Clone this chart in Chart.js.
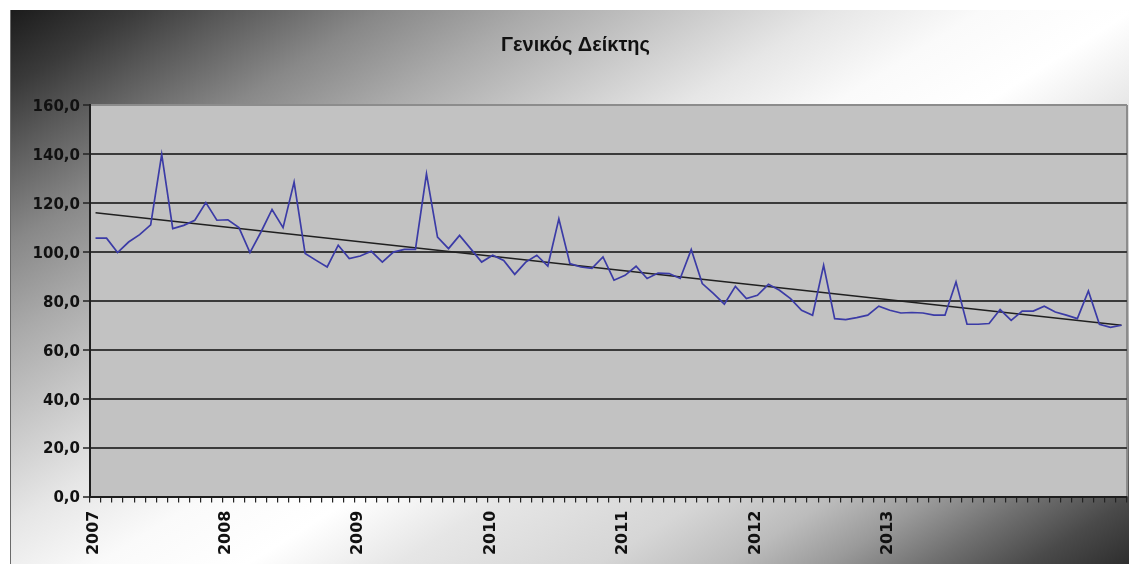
<!DOCTYPE html>
<html>
<head>
<meta charset="utf-8">
<script src="https://cdn.jsdelivr.net/npm/chart.js@4.4.0/dist/chart.umd.min.js"></script>
<style>
  html, body { margin: 0; padding: 0; background: #ffffff; }
  #wrap { width: 1129px; height: 564px; }
</style>
</head>
<body>
<div id="wrap"><canvas id="chart" width="1129" height="564"></canvas></div>
<script>
// General index, monthly values from January 2007 to October 2014
const titleText = 'Γενικός Δείκτης';
const firstYear = 2007;
const yearLabels = ['2007', '2008', '2009', '2010', '2011', '2012', '2013'];

const indexValues = [
  105.6, 105.6, 99.7, 104.0, 107.0, 111.0, 139.8, 109.5, 110.8, 112.9, 120.1, 112.9,
  113.1, 109.9, 99.7, 108.1, 117.3, 109.9, 128.5, 99.3, 96.5, 93.8, 102.7, 97.2,
  98.3, 100.2, 95.8, 99.9, 101.0, 101.0, 131.9, 106.0, 101.3, 106.7, 101.3, 95.8,
  98.6, 96.5, 90.8, 95.8, 98.6, 94.2, 113.5, 95.2, 93.8, 93.2, 97.9, 88.4,
  90.4, 94.1, 89.1, 91.3, 91.1, 89.1, 100.9, 87.0, 83.0, 78.6, 85.9, 80.9,
  82.2, 86.7, 84.3, 80.9, 76.1, 74.1, 94.5, 72.7, 72.3, 73.1, 74.1, 77.8,
  76.1, 75.0, 75.2, 75.0, 74.1, 74.1, 87.7, 70.4, 70.4, 70.7, 76.4, 72.0,
  75.8, 75.8, 77.8, 75.4, 74.1, 72.7, 84.0, 70.4, 69.1, 70.0
];

// Linear trend line end points
const trendStart = 116.0;
const trendEnd = 70.0;

// Value axis
const yMin = 0;
const yMax = 160;
const yStep = 20;

// Month categories such as "2007-01"
const categories = indexValues.map((_, i) =>
  (firstYear + Math.floor(i / 12)) + '-' + String((i % 12) + 1).padStart(2, '0'));

const lastIndex = indexValues.length - 1;
const trendData = categories.map((_, i) =>
  i === 0 ? trendStart : (i === lastIndex ? trendEnd : null));

// Diagonal grey backdrop and the grey plot panel
const backdrop = {
  id: 'backdrop',
  beforeDraw(chart) {
    const { ctx, chartArea: a } = chart;
    ctx.save();
    ctx.fillStyle = '#ffffff';
    ctx.fillRect(0, 0, chart.width, chart.height);

    const span = 2031;
    const g = ctx.createLinearGradient(0, 0, 570.5, 912.8);
    const stops = [
      [0, '#151515'], [150, '#3a3a3a'], [250, '#5a5a5a'], [400, '#888888'],
      [550, '#aaaaaa'], [700, '#c8c8c8'], [850, '#e6e6e6'], [1000, '#fafafa'],
      [1150, '#ffffff'], [1300, '#e6e6e6'], [1500, '#d6d6d6'], [1630, '#bcbcbc'],
      [1730, '#9a9a9a'], [1830, '#707070'], [1930, '#4a4a4a'], [2031, '#2e2e2e']
    ];
    stops.forEach(([s, c]) => g.addColorStop(s / span, c));
    ctx.fillStyle = g;
    ctx.fillRect(10, 10, chart.width - 10, chart.height - 10);

    ctx.strokeStyle = '#6a6a6a';
    ctx.lineWidth = 1;
    ctx.beginPath();
    ctx.moveTo(10.5, 10);
    ctx.lineTo(10.5, chart.height);
    ctx.stroke();

    ctx.fillStyle = '#c2c2c2';
    ctx.fillRect(a.left, a.top, a.right - a.left, a.bottom - a.top);
    ctx.strokeStyle = '#8c8c8c';
    ctx.lineWidth = 2;
    ctx.beginPath();
    ctx.moveTo(a.right, a.top);
    ctx.lineTo(a.right, a.bottom);
    ctx.stroke();
    ctx.restore();
  }
};

new Chart(document.getElementById('chart').getContext('2d'), {
  type: 'line',
  data: {
    labels: categories,
    datasets: [
      {
        label: titleText,
        data: indexValues,
        borderColor: '#3b3ba6',
        borderWidth: 1.7,
        pointRadius: 0,
        tension: 0,
        fill: false
      },
      {
        label: 'Τάση',
        data: trendData,
        borderColor: '#202020',
        borderWidth: 1.5,
        pointRadius: 0,
        spanGaps: true,
        fill: false
      }
    ]
  },
  options: {
    responsive: false,
    animation: false,
    devicePixelRatio: 1,
    layout: { padding: { left: 24, right: 2, top: 10, bottom: 0 } },
    plugins: {
      legend: { display: false },
      tooltip: { enabled: false },
      title: {
        display: true,
        text: titleText,
        color: '#111111',
        font: { family: 'Liberation Sans', size: 20, weight: 'bold' },
        padding: { top: 23, bottom: 48 }
      }
    },
    scales: {
      x: {
        offset: true,
        grid: {
          offset: true,
          drawOnChartArea: false,
          drawTicks: true,
          tickLength: 6,
          color: '#222222',
          lineWidth: 1.2
        },
        border: { color: '#1e1e1e', width: 2 },
        ticks: {
          autoSkip: false,
          minRotation: 90,
          maxRotation: 90,
          padding: 8,
          labelOffset: -2,
          color: '#111111',
          font: { family: 'DejaVu Sans', size: 16, weight: 'bold' },
          callback(value) {
            const lab = this.getLabelForValue(value);
            const yr = lab.slice(0, 4);
            return lab.endsWith('-01') && yearLabels.includes(yr) ? yr : '';
          }
        },
        afterFit(scale) {
          scale.height = 67.5;
          scale.paddingLeft = 0;
          scale.paddingRight = 0;
        }
      },
      y: {
        min: yMin,
        max: yMax,
        grid: {
          color: (c) => (c.tick && c.tick.value === yMax) ? '#8c8c8c' : '#3a3a3a',
          lineWidth: 2,
          drawTicks: true,
          tickLength: 7,
          tickColor: '#222222',
          tickWidth: 1.5
        },
        border: { color: '#1e1e1e', width: 2 },
        ticks: {
          stepSize: yStep,
          padding: 3,
          labelOffset: 2,
          color: '#111111',
          font: { family: 'DejaVu Sans', size: 15, weight: 'bold' },
          callback: (v) => Number(v).toFixed(1).replace('.', ',')
        },
        afterFit(scale) { scale.width = 66; }
      }
    }
  },
  plugins: [backdrop]
});
</script>
</body>
</html>
